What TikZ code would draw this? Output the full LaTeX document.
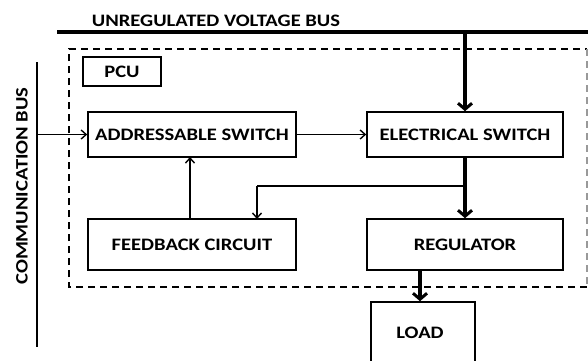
\documentclass[tikz,border=0pt]{standalone}
\usepackage{fontspec}
\setmainfont{Carlito}
\usetikzlibrary{arrows.meta}
\newcommand{\wtxt}[1]{\scalebox{1.175}[1]{#1}}
\begin{document}
\begin{tikzpicture}[x=1pt,y=-1pt,
  blk/.style={draw=black,line width=1.6pt,inner sep=0pt,font=\bfseries\fontsize{17.5}{17.5}\selectfont},
  thin/.style={line width=1.4pt,-{Straight Barb[length=5pt,width=9pt,line width=1.4pt]}},
  thick/.style={line width=4pt,-{Straight Barb[length=6pt,width=14pt,line width=3pt]}},
  lbl/.style={font=\bfseries\fontsize{17.5}{17.5}\selectfont,inner sep=0pt}]
\useasboundingbox (0,0) rectangle (588,360);
\clip (0,0) rectangle (588,360);
% buses
\coordinate (busL) at (57,32);
\coordinate (busR) at (590,32);
\draw[line width=3.5pt] (busL) -- (busR);
\node[lbl,anchor=base] (ubl) at (216,26) {\wtxt{UNREGULATED VOLTAGE BUS}};
\coordinate (cbT) at (37,62);
\coordinate (cbB) at (37,347);
\draw[line width=1.6pt] (cbT) -- (cbB);
\node[lbl,rotate=90] (cbl) at (22,186) {\wtxt{COMMUNICATION BUS}};
% dashed PCU boundary
\draw[line width=1.5pt,dash pattern=on 7pt off 5pt] (587,287) -- (69,287) -- (69,49) -- (587,49);
\draw[line width=1.5pt,dash pattern=on 7pt off 5pt,black!40] (587,49) -- (587,287);
% blocks
\node[blk,minimum width=78pt,minimum height=29pt] (pcu) at (122,71.5) {\wtxt{PCU}};
\node[blk,minimum width=208pt,minimum height=45pt] (as) at (192,134.5) {\wtxt{ADDRESSABLE SWITCH}};
\node[blk,minimum width=196pt,minimum height=45pt] (es) at (465,134.5) {\wtxt{ELECTRICAL SWITCH}};
\node[blk,minimum width=208pt,minimum height=51pt] (fb) at (192,244.5) {\wtxt{FEEDBACK CIRCUIT}};
\node[blk,minimum width=196pt,minimum height=51pt] (reg) at (465,244.5) {\wtxt{REGULATOR}};
\node[draw=black,line width=1.6pt,minimum width=104pt,minimum height=70pt,inner sep=0pt] (load) at (423,337) {};
\node[lbl] (loadt) at (420,333) {\wtxt{LOAD}};
% connectors
\coordinate (cbin) at (37,134.5);
\draw[thin] (cbin) -- (as.west);
\draw[thin] (as.east) -- (es.west);
\coordinate (tap) at (465,32);
\draw[thick] (tap) -- (es.north);
\draw[thick] (es.south) -- (reg.north);
\coordinate (br) at (465,186);
\coordinate (brL) at (257,186);
\draw[line width=1.4pt] (br) -- (brL);
\draw[thin] (brL) -- (257,219);
\draw[thin] (fb.north -| 190,0) -- (190,157);
\draw[thick] (420,270) -- (load.north -| 420,0);
\end{tikzpicture}
\end{document}
